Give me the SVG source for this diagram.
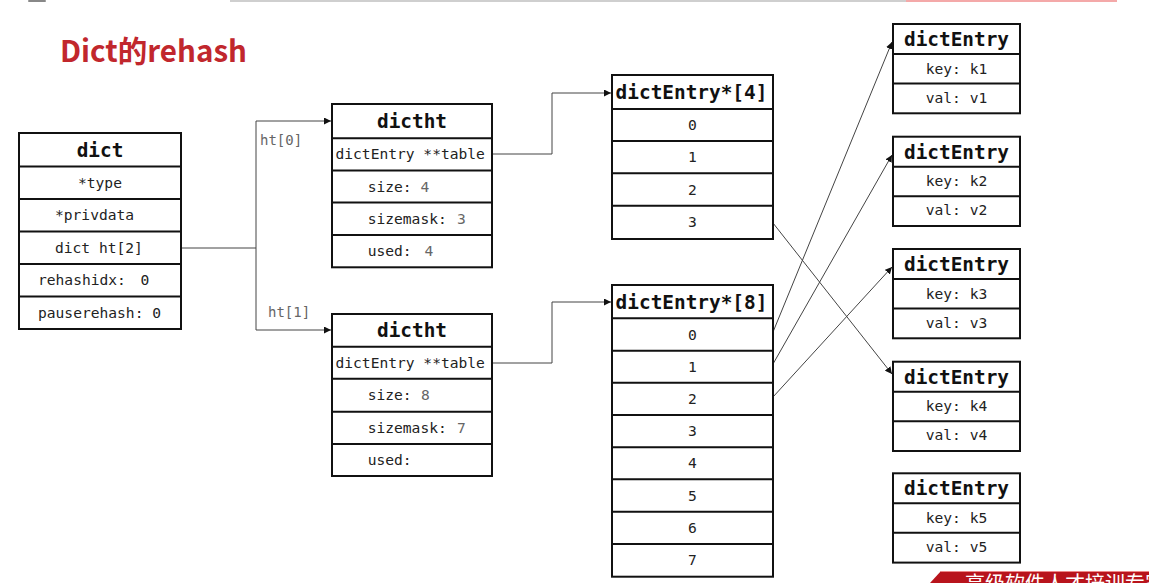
<svg xmlns="http://www.w3.org/2000/svg" width="1149" height="583" viewBox="0 0 1149 583">
<style>
.box{fill:#fff;stroke:#111;stroke-width:2}
.sep{stroke:#111;stroke-width:2}
.hd{font-family:"DejaVu Sans Mono",monospace;font-weight:bold;font-size:19.4px;fill:#111;text-anchor:middle}
.t{font-family:"DejaVu Sans Mono",monospace;font-size:14.6px;fill:#222}
.c{text-anchor:middle}
.v{fill:#666}
.lbl{font-family:"DejaVu Sans Mono",monospace;font-size:14px;fill:#666}
.con{fill:none;stroke:#444;stroke-width:1}
</style>
<defs>
<marker id="ah" viewBox="0 0 8 8" refX="8" refY="4" markerWidth="7" markerHeight="7" markerUnits="userSpaceOnUse" orient="auto">
<path d="M0,0 L8,4 L0,8 z" fill="#111"/>
</marker>
</defs>
<rect width="1149" height="583" fill="#fff"/>
<!-- top strip -->
<rect x="230" y="0" width="676" height="2" fill="#cfcfcf"/>
<rect x="906" y="0" width="211" height="2" fill="#f4a9a9"/>
<rect x="28" y="0" width="18" height="2" rx="1" fill="#888"/>
<text x="60" y="62" font-family="'Noto Sans CJK SC','Noto Sans',sans-serif" font-weight="bold" font-size="30" fill="#C1272D" textLength="187" lengthAdjust="spacingAndGlyphs">Dict的rehash</text>

<g id="connectors">
<path class="con" d="M181,248 H256 V121 H331" marker-end="url(#ah)"/>
<path class="con" d="M256,248 V330 H331" marker-end="url(#ah)"/>
<path class="con" d="M492,154 H552 V93 H611" marker-end="url(#ah)"/>
<path class="con" d="M492,363 H552 V302 H611" marker-end="url(#ah)"/>
<path class="con" d="M773,223 L892,374" marker-end="url(#ah)"/>
<path class="con" d="M773,332 L892,42" marker-end="url(#ah)"/>
<path class="con" d="M773,364 L892,155" marker-end="url(#ah)"/>
<path class="con" d="M773,397 L892,267" marker-end="url(#ah)"/>
<text class="lbl" x="260" y="145">ht[0]</text>
<text class="lbl" x="268" y="317">ht[1]</text>
</g>

<g id="dict">
<rect class="box" x="19" y="133" width="162" height="196"/>
<path class="sep" d="M19,166.5 H181 M19,199 H181 M19,231.5 H181 M19,264 H181 M19,296.5 H181"/>
<text class="hd" x="100" y="157">dict</text>
<text class="t" x="78" y="187.7">*type</text>
<text class="t" x="55" y="220.2">*privdata</text>
<text class="t" x="55" y="252.7">dict ht[2]</text>
<text class="t" x="38" y="285.2">rehashidx:</text>
<text class="t c" x="145" y="285.2">0</text>
<text class="t" x="38" y="317.7">pauserehash: 0</text>
</g>

<g id="dictht0">
<rect class="box" x="332" y="104" width="160" height="163.3"/>
<path class="sep" d="M332,138.3 H492 M332,170.5 H492 M332,202.5 H492 M332,235 H492"/>
<text class="hd" x="412" y="128">dictht</text>
<text class="t" x="335.5" y="159.4">dictEntry **table</text>
<text class="t" x="367.7" y="191.5">size:</text>
<text class="t c v" x="425" y="191.5">4</text>
<text class="t" x="367.7" y="223.7">sizemask:</text>
<text class="t c v" x="461.5" y="223.7">3</text>
<text class="t" x="367.7" y="256.2">used:</text>
<text class="t c v" x="429" y="256.2">4</text>
</g>

<g id="dictht1">
<rect class="box" x="332" y="314" width="160" height="162"/>
<path class="sep" d="M332,346.7 H492 M332,378.7 H492 M332,411.7 H492 M332,444 H492"/>
<text class="hd" x="412" y="337">dictht</text>
<text class="t" x="335.5" y="367.7">dictEntry **table</text>
<text class="t" x="367.7" y="400.2">size:</text>
<text class="t c v" x="425.3" y="400.2">8</text>
<text class="t" x="367.7" y="432.8">sizemask:</text>
<text class="t c v" x="461.5" y="432.8">7</text>
<text class="t" x="367.7" y="465">used:</text>
</g>

<g id="table4">
<rect class="box" x="612" y="75" width="161" height="164"/>
<path class="sep" d="M612,109 H773 M612,141 H773 M612,173.3 H773 M612,205.7 H773"/>
<text class="hd" x="691.5" y="99">dictEntry*[4]</text>
<text class="t c" x="692.5" y="130">0</text>
<text class="t c" x="692.5" y="162.2">1</text>
<text class="t c" x="692.5" y="194.5">2</text>
<text class="t c" x="692.5" y="227.3">3</text>
</g>

<g id="table8">
<rect class="box" x="612" y="285" width="161" height="291.7"/>
<path class="sep" d="M612,318.3 H773 M612,350.7 H773 M612,382.7 H773 M612,415 H773 M612,447.3 H773 M612,479.3 H773 M612,511.7 H773 M612,544 H773"/>
<text class="hd" x="691.5" y="308.7">dictEntry*[8]</text>
<text class="t c" x="692.5" y="339.5">0</text>
<text class="t c" x="692.5" y="371.7">1</text>
<text class="t c" x="692.5" y="403.9">2</text>
<text class="t c" x="692.5" y="436.2">3</text>
<text class="t c" x="692.5" y="468.3">4</text>
<text class="t c" x="692.5" y="500.5">5</text>
<text class="t c" x="692.5" y="532.9">6</text>
<text class="t c" x="692.5" y="565.4">7</text>
</g>

<g id="entry1">
<rect class="box" x="893" y="24" width="127" height="89.3"/>
<path class="sep" d="M893,54 H1020 M893,83.5 H1020"/>
<text class="hd" x="956.5" y="46">dictEntry</text>
<text class="t c" x="956.5" y="73.5">key: k1</text>
<text class="t c" x="956.5" y="102.5">val: v1</text>
</g>
<g id="entry2">
<rect class="box" x="893" y="136.7" width="127" height="89.3"/>
<path class="sep" d="M893,166.7 H1020 M893,196.2 H1020"/>
<text class="hd" x="956.5" y="158.7">dictEntry</text>
<text class="t c" x="956.5" y="186.2">key: k2</text>
<text class="t c" x="956.5" y="215.2">val: v2</text>
</g>
<g id="entry3">
<rect class="box" x="893" y="249" width="127" height="89.3"/>
<path class="sep" d="M893,279 H1020 M893,308.5 H1020"/>
<text class="hd" x="956.5" y="271">dictEntry</text>
<text class="t c" x="956.5" y="298.5">key: k3</text>
<text class="t c" x="956.5" y="327.5">val: v3</text>
</g>
<g id="entry4">
<rect class="box" x="893" y="361.7" width="127" height="89.3"/>
<path class="sep" d="M893,391.7 H1020 M893,421.2 H1020"/>
<text class="hd" x="956.5" y="383.7">dictEntry</text>
<text class="t c" x="956.5" y="411.2">key: k4</text>
<text class="t c" x="956.5" y="440.2">val: v4</text>
</g>
<g id="entry5">
<rect class="box" x="893" y="473.3" width="127" height="89.3"/>
<path class="sep" d="M893,503.3 H1020 M893,532.8 H1020"/>
<text class="hd" x="956.5" y="495.3">dictEntry</text>
<text class="t c" x="956.5" y="522.8">key: k5</text>
<text class="t c" x="956.5" y="551.8">val: v5</text>
</g>

<g id="banner">
<polygon points="930,583 941,571 1149,571 1149,583" fill="#B8141C"/>
<line x1="941" y1="571.5" x2="1149" y2="571.5" stroke="#e88" stroke-width="1"/>
<text x="965" y="591" font-family="'Noto Sans CJK SC',sans-serif" font-size="20" fill="#fff">高级软件人才培训专家</text>
</g>
</svg>
